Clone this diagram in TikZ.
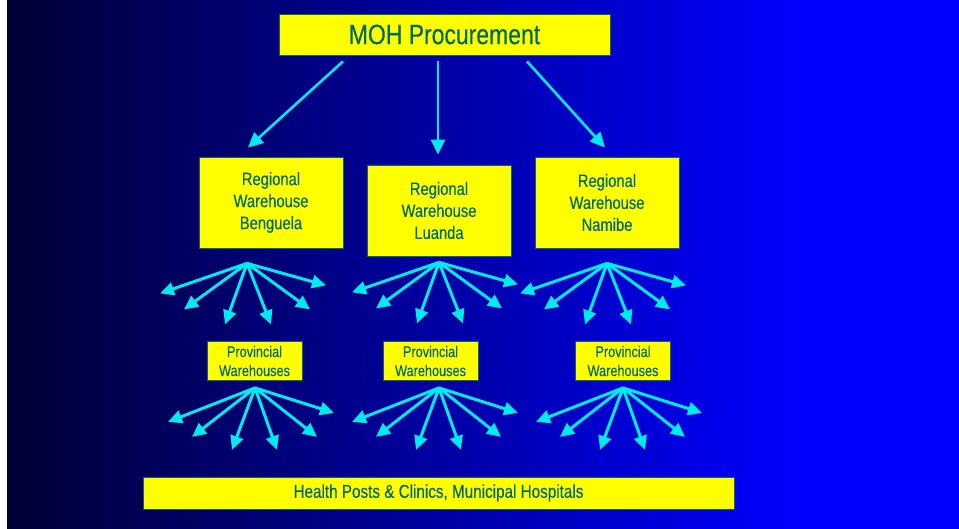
\documentclass[tikz,border=0pt]{standalone}
\usepackage{fontspec}
\setmainfont{Liberation Sans}[FakeStretch=0.82,FakeBold=0.35]
\usetikzlibrary{arrows.meta}

\definecolor{bgdark}{RGB}{0,0,52}
\definecolor{bgblue}{RGB}{0,0,255}
\definecolor{boxyellow}{RGB}{255,255,0}
\definecolor{textteal}{RGB}{0,104,104}
\definecolor{arrowcyan}{RGB}{0,235,240}

\tikzset{
  ybox/.style={draw=textteal,line width=0.8pt,fill=boxyellow,text=textteal,
    align=center,inner sep=0pt},
  topbox/.style={ybox,minimum width=331pt,minimum height=41pt,
    font=\fontsize{28}{30}\selectfont},
  regbox/.style={ybox,minimum width=144pt,minimum height=91pt,
    font=\fontsize{18}{22}\selectfont,
    execute at begin node={\rule{0pt}{18.5pt}}},
  provbox/.style={ybox,minimum width=95pt,minimum height=39pt,
    font=\fontsize{15.5}{19}\selectfont},
  basebox/.style={ybox,minimum width=591pt,minimum height=32pt,
    font=\fontsize{18.6}{20}\selectfont},
  bigarrow/.style={draw=arrowcyan,line width=2.6pt,
    -{Triangle[length=15pt,width=14pt]},arrowcyan},
  fan/.style={draw=arrowcyan,line width=3pt,
    -{Triangle[length=14pt,width=13pt]},arrowcyan}
}

\begin{document}
\begin{tikzpicture}[x=1pt,y=-1pt]
  % background
  \fill[white] (0,0) rectangle (959,529);
  \shade[left color=bgdark,right color=bgblue] (7,0) rectangle (800,529);
  \fill[bgblue] (800,0) rectangle (959,529);

  % boxes
  \node[topbox] (moh) at (444.5,34.5) {MOH Procurement};
  \node[regbox] (regB) at (271,202.5) {Regional\\Warehouse\\Benguela};
  \node[regbox] (regL) at (439,210.5) {Regional\\Warehouse\\Luanda};
  \node[regbox] (regN) at (607,202.5) {Regional\\Warehouse\\Namibe};
  \node[provbox] (provB) at (254.5,361) {Provincial\\Warehouses};
  \node[provbox] (provL) at (430.5,361) {Provincial\\Warehouses};
  \node[provbox] (provN) at (623,361) {Provincial\\Warehouses};
  \node[basebox] (health) at (438.5,493) {Health Posts \& Clinics, Municipal Hospitals};

  % procurement to regional warehouses
  \draw[bigarrow] ([xshift=-101.5pt,yshift=-6pt]moh.south) -- ([xshift=-23pt,yshift=9pt]regB.north);
  \draw[bigarrow] ([xshift=-6.5pt,yshift=-6pt]moh.south) -- ([xshift=-1pt,yshift=10pt]regL.north);
  \draw[bigarrow] ([xshift=82.5pt,yshift=-6pt]moh.south) -- ([xshift=-2pt,yshift=9pt]regN.north);

  % fan origins
  \coordinate (fanB) at ([xshift=-24pt,yshift=-15pt]regB.south);
  \coordinate (fanL) at ([yshift=-6pt]regL.south);
  \coordinate (fanN) at ([yshift=-15pt]regN.south);
  \coordinate (subB) at ([xshift=0.5pt,yshift=-7pt]provB.south);
  \coordinate (subL) at ([xshift=8.5pt,yshift=-7pt]provL.south);
  \coordinate (subN) at ([yshift=-7pt]provN.south);

  % regional to provincial
  \foreach \o in {fanB,fanL,fanN}
    \foreach \dx/\dy in {-87/30,-63/46,-22/61,24/61,63/46,79/22}
      \draw[fan] (\o) -- ++(\dx,\dy);

  % provincial to health posts
  \foreach \o in {subB,subL,subN}
    \foreach \dx/\dy in {-87/34,-63/49,-23/62,22/62,62/49,79/25}
      \draw[fan] (\o) -- ++(\dx,\dy);
\end{tikzpicture}
\end{document}
